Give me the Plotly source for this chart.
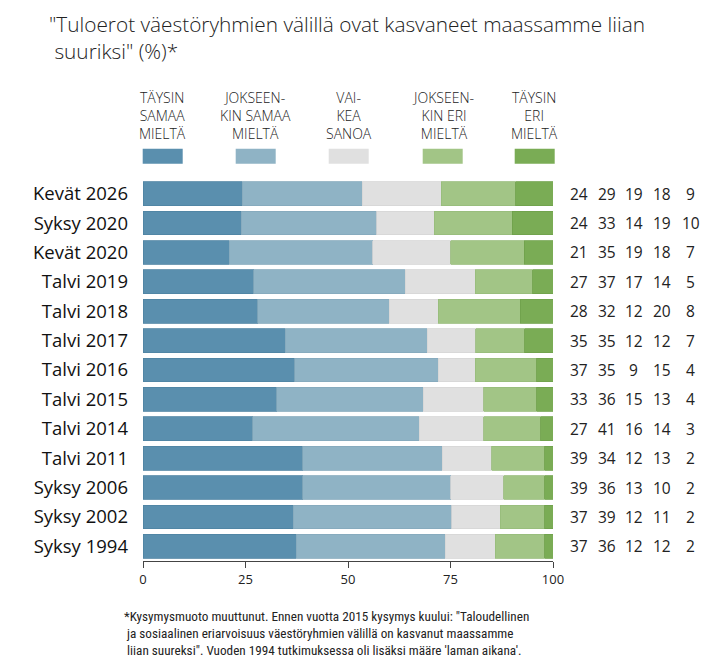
import plotly.graph_objects as go

categories = ["Kevät 2026", "Syksy 2020", "Kevät 2020", "Talvi 2019", "Talvi 2018",
              "Talvi 2017", "Talvi 2016", "Talvi 2015", "Talvi 2014", "Talvi 2011",
              "Syksy 2006", "Syksy 2002", "Syksy 1994"]
series_names = ["TÄYSIN<br>SAMAA<br>MIELTÄ", "JOKSEEN-<br>KIN SAMAA<br>MIELTÄ",
                "VAI-<br>KEA<br>SANOA", "JOKSEEN-<br>KIN ERI<br>MIELTÄ", "TÄYSIN<br>ERI<br>MIELTÄ"]
taysin_samaa = [24, 24, 21, 27, 28, 35, 37, 33, 27, 39, 39, 37, 37]
jokseenkin_samaa = [29, 33, 35, 37, 32, 35, 35, 36, 41, 34, 36, 39, 36]
vaikea_sanoa = [19, 14, 19, 17, 12, 12, 9, 15, 16, 12, 13, 12, 12]
jokseenkin_eri = [18, 19, 18, 14, 20, 12, 15, 13, 14, 13, 10, 11, 12]
taysin_eri = [9, 10, 7, 5, 8, 7, 4, 4, 3, 2, 2, 2, 2]
x_ticks = [0, 25, 50, 75, 100]

series = [taysin_samaa, jokseenkin_samaa, vaikea_sanoa, jokseenkin_eri, taysin_eri]
colors = ["#5a8fae", "#8fb3c5", "#e0e0e0", "#a2c586", "#7aac55"]
edge = ["#4f83a3", "#84a9bc", "#d6d6d6", "#97bb7b", "#6fa14b"]

totals = [sum(v) for v in zip(*series)]

# page body has an 8px margin
OFF = 8
W, H = 720, 670
L, R = 143.3, 553.3
T, B = 179.3, 560.7

def px(xp):
    return (xp - L) / (R - L)

def py(yp):
    return (B - yp) / (B - T)

fig = go.Figure()
for vals, name, c, e in zip(series, series_names, colors, edge):
    fig.add_trace(go.Bar(
        y=categories, x=[v / t * 100 for v, t in zip(vals, totals)],
        orientation="h", name=name, marker=dict(color=c, line=dict(color=e, width=0.8)),
        hoverinfo="skip", showlegend=False))

annotations = []
# right-side numbers
col_x = [579, 607, 634, 662, 691]
for vals, cx in zip(series, col_x):
    for cat, v in zip(categories, vals):
        annotations.append(dict(x=px(cx), xref="paper", y=cat, yref="y", text=str(v),
                                showarrow=False, xanchor="center", yanchor="middle",
                                font=dict(family="Open Sans", size=15.5, color="#222")))

# legend
leg_x = [143, 236, 329, 423, 515]
for name, c, lx in zip(series_names, colors, leg_x):
    fig.add_shape(type="rect", xref="paper", yref="paper",
                  x0=px(lx), x1=px(lx + 40), y0=py(164), y1=py(149),
                  fillcolor=c, line=dict(width=0))
    annotations.append(dict(x=px(lx + 20), xref="paper", y=py(116), yref="paper",
                            text=name, showarrow=False, xanchor="center", yanchor="middle",
                            align="center",
                            font=dict(family="Open Sans", size=14, color="#222", weight=300)))

# title
title_text = '"Tuloerot väestöryhmien välillä ovat kasvaneet maassamme liian<br> suuriksi" (%)*'
annotations.append(dict(x=px(47), xref="paper", y=py(38), yref="paper",
                        text=title_text, showarrow=False, xanchor="left", yanchor="middle",
                        align="left",
                        font=dict(family="Open Sans", size=20.8, color="#222", weight=300)))

# footnote
foot_text = ('*Kysymysmuoto muuttunut. Ennen vuotta 2015 kysymys kuului: "Taloudellinen<br>'
             ' ja sosiaalinen eriarvoisuus väestöryhmien välillä on kasvanut maassamme<br>'
             " liian suureksi\". Vuoden 1994 tutkimuksessa oli lisäksi määre 'laman aikana'.")
annotations.append(dict(x=px(122), xref="paper", y=py(633), yref="paper",
                        text=foot_text, showarrow=False, xanchor="left", yanchor="middle",
                        align="left",
                        font=dict(family="Liberation Sans Narrow, Roboto Condensed, Lato",
                                  size=13.2, color="#222")))

fig.update_layout(
    width=W - OFF, height=H - OFF, barmode="stack", bargap=0.19,
    margin=dict(l=L - OFF, r=W - R, t=T - OFF, b=H - B, autoexpand=False),
    plot_bgcolor="white", paper_bgcolor="white",
    annotations=annotations,
    xaxis=dict(range=[0, 100], tickvals=x_ticks, ticks="outside", ticklen=6,
               tickcolor="#444", showline=True, linecolor="#444", linewidth=1.2,
               showgrid=False, zeroline=False,
               tickfont=dict(family="Open Sans", size=13, color="#222")),
    yaxis=dict(categoryorder="array", categoryarray=categories, autorange="reversed",
               showgrid=False, zeroline=False, ticks="", ticklabelstandoff=14,
               tickfont=dict(family="Open Sans", size=18.5, color="#111")),
)

fig.write_html("out.html")
